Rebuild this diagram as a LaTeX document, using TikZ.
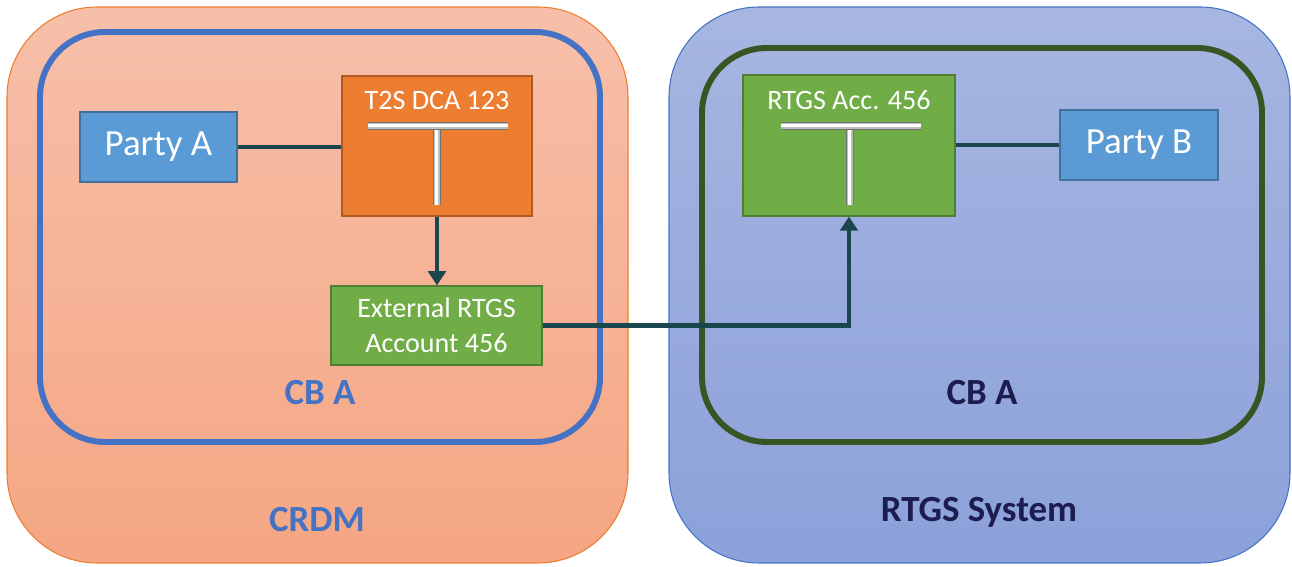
\documentclass[tikz,border=0pt]{standalone}
\usepackage{fontspec}
\setmainfont{Carlito}
\usetikzlibrary{arrows.meta,calc}
\definecolor{orfill}{HTML}{ED7D31}
\definecolor{orline}{HTML}{AE5A21}
\definecolor{grfill}{HTML}{70AD47}
\definecolor{grline}{HTML}{507E32}
\definecolor{blfill}{HTML}{5B9BD5}
\definecolor{blline}{HTML}{41719C}
\definecolor{cbblue}{HTML}{4472C4}
\definecolor{cbgreen}{HTML}{375623}
\definecolor{conn}{HTML}{1A474E}
\definecolor{navy}{HTML}{1C1C4F}
\definecolor{ltop}{HTML}{F7BFA9}
\definecolor{lbot}{HTML}{F5A683}
\definecolor{rtop}{HTML}{A7B6E1}
\definecolor{rbot}{HTML}{8CA1DA}
\tikzset{
  box/.style={draw, line width=0.8pt, inner sep=0pt},
  party/.style={box, fill=blfill, draw=blline, text=white, minimum width=3.14cm, minimum height=1.4cm, font=\fontsize{21}{25}\selectfont},
  acct/.style={box, minimum width=3.8cm, minimum height=2.8cm},
  acctlbl/.style={text=white, font=\fontsize{16}{19}\selectfont, inner sep=0pt},
  conline/.style={draw=conn, line width=2.7pt},
  arr/.style={conline, -{Triangle[width=10pt,length=8pt]}},
  bigtxt/.style={font=\bfseries\fontsize{21}{25}\selectfont},
  tbarout/.style={draw=black!55, line width=4.5pt, line cap=butt},
  tbarin/.style={draw=white, line width=1.8pt},
  tbarmid/.style={draw=black!25, line width=3.2pt},
}
\begin{document}
\begin{tikzpicture}[x=0.02cm,y=0.02cm]
\useasboundingbox (0,0) rectangle (1292,567);
% outer systems
\path[draw=orfill, line width=0.6pt, top color=ltop, bottom color=lbot, rounded corners=1.8cm] (7,4) rectangle (628,560);
\path[draw=cbblue, line width=0.6pt, top color=rtop, bottom color=rbot, rounded corners=1.8cm] (669,4) rectangle (1290,560);
% inner CB boxes
\draw[cbblue, line width=3.4pt, rounded corners=1.3cm] (40,125) rectangle (600,535);
\draw[cbgreen, line width=3.4pt, rounded corners=1.3cm] (702,125) rectangle (1262,519);
% nodes
\node[party] (pa) at (158.5,420) {Party A};
\node[party, minimum width=3.16cm] (pb) at (1139,422) {Party B};
\node[acct, fill=orfill, draw=orline] (t2s) at (437,421) {};
\node[acct, fill=grfill, draw=grline, minimum width=4.24cm, minimum height=2.82cm] (racc) at (849,421.5) {};
\node[box, fill=grfill, draw=grline, minimum width=4.22cm, minimum height=1.58cm, align=center, text=white, font=\fontsize{16}{20}\selectfont] (ext) at (436.5,241.5) {External RTGS\\Account 456};
\node[acctlbl, anchor=base] (t2slbl) at (437,457) {T2S DCA 123};
\node[acctlbl, anchor=base] (racclbl) at (849,457) {RTGS Acc. 456};
% T symbols
\foreach \c in {437,850} {
  \draw[tbarout] (\c,362) -- (\c,441);
  \draw[tbarmid] (\c,362) -- (\c,441);
  \draw[tbarin] (\c-0.8,362) -- (\c-0.8,441);
  \draw[tbarout] (\c-69,441) -- (\c+71,441);
  \draw[tbarmid] (\c-69,441) -- (\c+71,441);
  \draw[tbarin] (\c-69,441.8) -- (\c+71,441.8);
}
% connectors
\draw[conline] (pa.east) -- (pa.east -| t2s.west);
\draw[conline] (racc.east |- pb.west) -- (pb.west);
\draw[arr] (t2s.south) -- (t2s.south |- ext.north);
\draw[arr] (ext.east) -| (racc.south);
% labels
\node[bigtxt, text=cbblue] (cba) at (320,174) {CB A};
\node[bigtxt, text=navy] (cbb) at (982,174) {CB A};
\node[bigtxt, text=cbblue] (crdm) at (317,47) {CRDM};
\node[bigtxt, text=navy] (rtgs) at (979,55) {RTGS System};
\end{tikzpicture}
\end{document}
